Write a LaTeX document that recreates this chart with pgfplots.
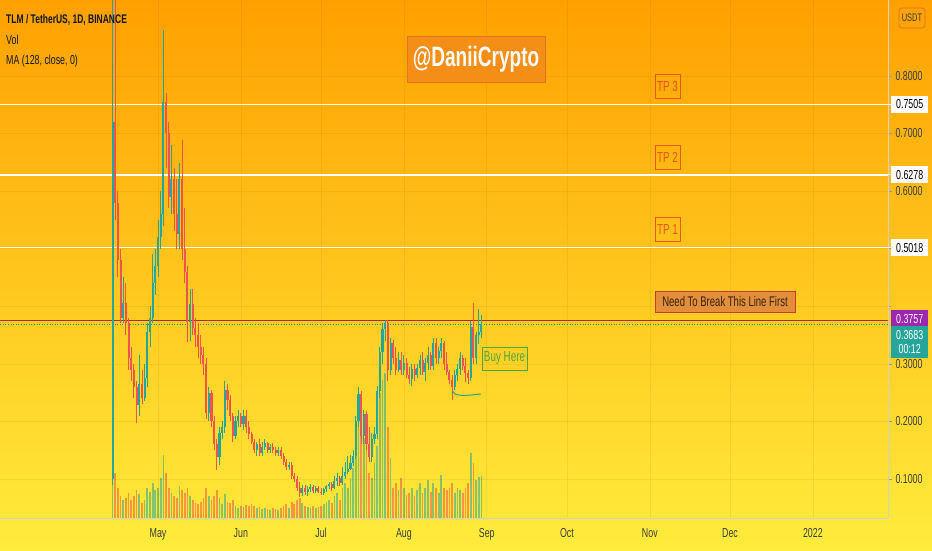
\documentclass[border=0pt]{standalone}
\usepackage{fontspec}
\setmainfont{Liberation Sans}[FakeStretch=0.68]
\usepackage{pgfplots}
\pgfplotsset{compat=1.18}
\usepackage{pgfplotstable}

\newcommand\fs[1]{\fontsize{#1}{#1}\selectfont}

\definecolor{bgtop}{RGB}{255,160,0}
\definecolor{bgmid}{RGB}{255,200,25}
\definecolor{bgbot}{RGB}{255,236,60}
\definecolor{candleup}{HTML}{26A69A}
\definecolor{candledown}{HTML}{EF5350}
\definecolor{levelred}{RGB}{178,40,52}
\definecolor{pricepurple}{HTML}{9C27B0}
\definecolor{tpred}{RGB}{235,85,30}
\definecolor{tagfill}{RGB}{226,142,58}
\definecolor{tagedge}{RGB}{205,60,40}
\definecolor{buygreen}{RGB}{85,165,60}
\definecolor{brandfill}{RGB}{244,142,22}
\definecolor{brandedge}{RGB}{232,112,30}
\definecolor{inkdark}{HTML}{131722}
\definecolor{scalegray}{RGB}{60,60,65}

% TLM/USDT daily candles, day 0 = 1 May 2021: day open high low close volume
\pgfplotstableread{
d o h l c v
-17 0.100 0.950 0.090 0.720 90
-13 0.380 0.450 0.370 0.405 18
-7 0.228 0.315 0.210 0.265 24
-5 0.240 0.300 0.235 0.275 18
-4 0.275 0.370 0.260 0.355 30
-3 0.355 0.400 0.330 0.380 26
-2 0.380 0.490 0.370 0.440 35
-1 0.440 0.500 0.420 0.470 28
0 0.470 0.550 0.450 0.520 30
1 0.520 0.600 0.500 0.560 40
2 0.560 0.880 0.540 0.755 63
5 0.590 0.680 0.560 0.620 25
8 0.525 0.648 0.500 0.620 32
12 0.372 0.430 0.340 0.404 22
19 0.214 0.260 0.200 0.250 22
23 0.138 0.190 0.125 0.180 20
24 0.180 0.200 0.170 0.190 14
25 0.190 0.270 0.180 0.254 24
29 0.175 0.210 0.170 0.200 12
30 0.200 0.220 0.190 0.210 10
32 0.195 0.220 0.185 0.210 11
37 0.150 0.165 0.140 0.160 10
39 0.146 0.165 0.140 0.155 9
40 0.155 0.170 0.150 0.162 10
42 0.150 0.160 0.145 0.156 8
45 0.145 0.155 0.140 0.150 8
49 0.120 0.130 0.115 0.125 10
54 0.075 0.090 0.070 0.085 15
56 0.078 0.088 0.070 0.082 11
57 0.082 0.092 0.078 0.086 10
59 0.080 0.088 0.076 0.084 10
62 0.076 0.085 0.072 0.082 14
63 0.082 0.090 0.078 0.087 16
64 0.087 0.095 0.082 0.091 18
66 0.084 0.105 0.082 0.096 22
67 0.096 0.110 0.088 0.101 25
69 0.093 0.120 0.090 0.106 30
70 0.106 0.130 0.100 0.113 35
71 0.113 0.140 0.108 0.118 30
72 0.118 0.142 0.115 0.127 40
73 0.127 0.150 0.122 0.140 50
74 0.140 0.210 0.135 0.200 70
75 0.200 0.260 0.190 0.247 100
77 0.175 0.220 0.160 0.212 80
80 0.138 0.180 0.130 0.170 40
81 0.170 0.190 0.160 0.178 55
82 0.178 0.262 0.170 0.252 72
83 0.252 0.330 0.240 0.320 125
84 0.320 0.370 0.300 0.360 138
85 0.360 0.376 0.340 0.370 145
87 0.290 0.345 0.280 0.336 60
90 0.290 0.320 0.285 0.306 28
92 0.290 0.315 0.280 0.302 30
95 0.274 0.300 0.262 0.291 30
97 0.280 0.300 0.275 0.292 28
98 0.292 0.315 0.280 0.306 35
100 0.286 0.310 0.270 0.301 30
101 0.301 0.330 0.290 0.316 38
103 0.296 0.345 0.290 0.336 35
105 0.310 0.330 0.300 0.322 25
106 0.322 0.345 0.310 0.336 43
111 0.260 0.290 0.255 0.280 25
112 0.280 0.300 0.270 0.291 30
113 0.291 0.320 0.280 0.310 28
117 0.275 0.375 0.270 0.364 65
119 0.310 0.356 0.300 0.350 38
120 0.350 0.395 0.335 0.356 41
121 0.356 0.384 0.345 0.3683 42
}\upcandles

\pgfplotstableread{
d o h l c v
-16 0.720 0.950 0.550 0.580 45
-15 0.580 0.600 0.450 0.480 30
-14 0.480 0.500 0.370 0.380 22
-12 0.405 0.440 0.350 0.370 20
-11 0.370 0.380 0.290 0.310 25
-10 0.310 0.330 0.270 0.290 18
-9 0.290 0.300 0.240 0.260 22
-8 0.260 0.270 0.197 0.228 28
-6 0.265 0.290 0.230 0.240 15
3 0.755 0.770 0.640 0.700 45
4 0.700 0.720 0.570 0.590 30
6 0.620 0.640 0.530 0.560 22
7 0.560 0.620 0.500 0.525 20
9 0.620 0.688 0.480 0.500 28
10 0.500 0.570 0.440 0.460 25
11 0.460 0.470 0.338 0.372 30
13 0.404 0.430 0.350 0.363 18
14 0.363 0.380 0.330 0.350 15
15 0.350 0.370 0.310 0.330 14
16 0.330 0.350 0.300 0.315 16
17 0.315 0.330 0.280 0.300 20
18 0.300 0.310 0.205 0.214 30
20 0.250 0.255 0.190 0.200 18
21 0.200 0.210 0.150 0.160 22
22 0.160 0.170 0.116 0.138 28
26 0.254 0.265 0.220 0.237 16
27 0.237 0.245 0.200 0.210 15
28 0.210 0.215 0.165 0.175 18
31 0.210 0.215 0.190 0.195 12
33 0.210 0.220 0.180 0.190 13
34 0.190 0.200 0.170 0.178 12
35 0.178 0.182 0.160 0.165 14
36 0.165 0.170 0.145 0.150 12
38 0.160 0.170 0.140 0.146 11
41 0.162 0.165 0.145 0.150 9
43 0.156 0.162 0.145 0.150 10
44 0.150 0.155 0.140 0.145 9
46 0.150 0.155 0.135 0.140 10
47 0.140 0.145 0.125 0.130 12
48 0.130 0.135 0.115 0.120 14
50 0.125 0.130 0.100 0.105 16
51 0.105 0.110 0.095 0.100 14
52 0.100 0.105 0.080 0.085 18
53 0.085 0.095 0.069 0.075 20
55 0.085 0.090 0.072 0.078 12
58 0.086 0.090 0.076 0.080 12
60 0.084 0.088 0.075 0.078 11
61 0.078 0.085 0.072 0.076 12
65 0.091 0.095 0.080 0.084 15
68 0.101 0.105 0.088 0.093 18
76 0.247 0.252 0.160 0.175 121
78 0.212 0.216 0.150 0.160 108
79 0.160 0.190 0.130 0.138 45
86 0.370 0.376 0.270 0.290 91
88 0.336 0.342 0.300 0.310 30
89 0.310 0.330 0.280 0.290 35
91 0.306 0.320 0.280 0.290 40
93 0.302 0.310 0.275 0.281 23
94 0.281 0.295 0.265 0.274 25
96 0.291 0.300 0.270 0.280 22
99 0.306 0.320 0.280 0.286 25
102 0.316 0.320 0.290 0.296 26
104 0.336 0.345 0.300 0.310 30
107 0.336 0.340 0.290 0.300 30
108 0.300 0.320 0.280 0.286 28
109 0.286 0.290 0.265 0.272 30
110 0.272 0.280 0.237 0.260 35
114 0.310 0.315 0.290 0.296 25
115 0.296 0.310 0.268 0.284 30
116 0.284 0.290 0.265 0.275 35
118 0.364 0.405 0.300 0.310 55
}\downcandles

\pgfplotsset{
  chartframe/.style={
    at={(0pt,32pt)}, anchor=south west, scale only axis,
    width=888pt, height=518pt, xmin=-59.11, xmax=273.1},
  wick/.style={forget plot, draw=none, mark=none,
    error bars/.cd, y dir=both, y explicit, error mark=none,
    error bar style={line width=0.9pt, line cap=butt, draw=#1}},
  body/.style={forget plot, draw=none, mark=none,
    error bars/.cd, y dir=both, y explicit, error mark=none,
    error bar style={line width=2.1pt, line cap=butt, draw=#1}},
}

\begin{document}
\begin{tikzpicture}[x=1pt,y=1pt]
\path[use as bounding box] (0,0) rectangle (932,550);
\shade[top color=bgtop, middle color=bgmid, bottom color=bgbot] (0,0) rectangle (932,550);

% volume pane
\begin{axis}[chartframe, ymin=0, ymax=518, hide axis]
  \addplot[ycomb, mark=none, draw=candleup, draw opacity=0.55, line width=1.7pt, line cap=butt]
    table[x=d, y=v] {\upcandles};
  \addplot[ycomb, mark=none, draw=candledown, draw opacity=0.55, line width=1.7pt, line cap=butt]
    table[x=d, y=v] {\downcandles};
\end{axis}

% price pane
\begin{axis}[chartframe, ymin=0.0323, ymax=0.9316,
  axis x line*=bottom, axis y line*=right,
  axis line style={draw=black!18, line width=0.6pt},
  xtick={0,31,61,92,123,153,184,214,245},
  xticklabels={May,Jun,Jul,Aug,Sep,Oct,Nov,Dec,2022},
  xtick style={draw=none},
  xticklabel style={font=\fs{13}, text=scalegray, yshift=-3pt},
  ytick={0.1,0.2,0.3,0.6,0.7,0.8},
  minor ytick={0.4,0.5},
  ytick style={draw=black!40, line width=0.5pt},
  major tick length=4pt, tick align=outside,
  yticklabel style={font=\fs{13}, text=scalegray, anchor=west, xshift=0pt,
    /pgf/number format/.cd, fixed, fixed zerofill, precision=4, assume math mode=true},
  grid=both,
  major grid style={draw=black, opacity=0.05, line width=0.6pt},
  minor grid style={draw=black, opacity=0.05, line width=0.6pt},
]
  % target levels
  \addplot[forget plot, white, line width=1.3pt] coordinates {(-60,0.7505) (274,0.7505)};
  \addplot[forget plot, white, line width=1.3pt] coordinates {(-60,0.6278) (274,0.6278)};
  \addplot[forget plot, white, line width=1.3pt] coordinates {(-60,0.5018) (274,0.5018)};
  \addplot[forget plot, levelred, line width=1pt] coordinates {(-60,0.3757) (274,0.3757)};
  \addplot[forget plot, candleup!60!green!80!black, line width=0.9pt, dash pattern=on 1pt off 1.6pt]
    coordinates {(-60,0.3683) (274,0.3683)};

  % candles: wicks then bodies
  \addplot[wick=candleup] table[x=d, y expr={(\thisrow{h}+\thisrow{l})/2},
    y error expr={(\thisrow{h}-\thisrow{l})/2}] {\upcandles};
  \addplot[wick=candledown] table[x=d, y expr={(\thisrow{h}+\thisrow{l})/2},
    y error expr={(\thisrow{h}-\thisrow{l})/2}] {\downcandles};
  \addplot[body=candleup] table[x=d, y expr={(\thisrow{o}+\thisrow{c})/2},
    y error expr={(\thisrow{c}-\thisrow{o})/2}] {\upcandles};
  \addplot[body=candledown] table[x=d, y expr={(\thisrow{o}+\thisrow{c})/2},
    y error expr={(\thisrow{o}-\thisrow{c})/2}] {\downcandles};

  \coordinate (p1) at (axis cs:273.1,0.7505);
  \coordinate (p2) at (axis cs:273.1,0.6278);
  \coordinate (p3) at (axis cs:273.1,0.5018);
  \coordinate (p4) at (axis cs:273.1,0.3757);
  \coordinate (p5) at (axis cs:273.1,0.3683);
\end{axis}

% price scale tags
\foreach \p/\t in {p1/0.7505, p2/0.6278, p3/0.5018} {
  \draw[white, line width=1pt] (\p) -- ++(4,0);
  \node[fill=white, anchor=west, minimum width=37pt, minimum height=17pt, inner sep=0pt,
    font=\fs{13}, text=black] at ([xshift=3pt]\p) {\t};
}
\node[fill=pricepurple, anchor=west, minimum width=37pt, minimum height=17pt, inner sep=0pt,
  font=\fs{13}, text=white] at ([xshift=3pt,yshift=1.5pt]p4) {0.3757};
\node[fill=candleup, anchor=north west, minimum width=37pt, minimum height=32pt, inner sep=0pt,
  align=center, font=\fs{13}, text=white] at ([xshift=3pt,yshift=-5.5pt]p4) {0.3683\\[1pt]00:12};

% currency badge
\node[draw=brandedge, rounded corners=3pt, line width=0.8pt, minimum width=26pt, minimum height=20pt,
  inner sep=0pt, font=\fs{11}, text=scalegray] at (912,532) {USDT};

% legend lines
\node[anchor=west, inner sep=0pt, font=\bfseries\fs{12.5}, text=inkdark] at (6,530) {TLM / TetherUS, 1D, BINANCE};
\node[anchor=west, inner sep=0pt, font=\fs{13}, text=inkdark] at (6,510) {Vol};
\node[anchor=west, inner sep=0pt, font=\fs{13}, text=inkdark] at (6,489) {MA (128, close, 0)};

% annotations
\node[fill=brandfill, draw=brandedge, line width=0.6pt, minimum width=138pt, minimum height=46pt,
  inner sep=0pt, font=\bfseries\fs{28}, text=white] at (476,491) {@DaniiCrypto};
\foreach \y/\t in {463.5/TP 3, 392.5/TP 2, 320.5/TP 1} {
  \node[draw=tpred, line width=0.8pt, minimum width=25pt, minimum height=24pt, inner sep=0pt,
    font=\fs{14.5}, text=tpred] at (667.5,\y) {\t};
}
\node[fill=tagfill, draw=tagedge, line width=0.8pt, minimum width=140pt, minimum height=21pt,
  inner sep=0pt, font=\fs{14}, text={rgb,255:red,55;green,35;blue,20}] at (725,248.5) {Need To Break This Line First};
\node[draw=buygreen, line width=0.8pt, minimum width=45pt, minimum height=23pt, inner sep=0pt,
  font=\fs{14.5}, text=buygreen] at (504.5,191.5) {Buy Here};
\draw[candleup, line width=1pt] (452,159) .. controls (455,153.5) and (463,154) .. (481,156);
\end{tikzpicture}
\end{document}
